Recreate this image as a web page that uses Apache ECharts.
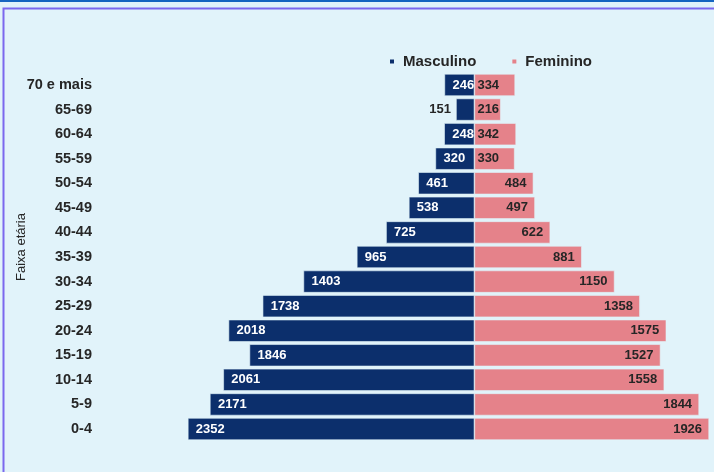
<!DOCTYPE html>
<html>
<head>
<meta charset="utf-8">
<script src="https://cdn.jsdelivr.net/npm/echarts@6/dist/echarts.min.js"></script>
<style>
  html, body { margin: 0; padding: 0; background: #e1f3fa; }
  #chart { width: 714px; height: 472px; }
</style>
</head>
<body>
<div id="chart"></div>
<script>
  var faixas = ['0-4', '5-9', '10-14', '15-19', '20-24', '25-29', '30-34', '35-39',
    '40-44', '45-49', '50-54', '55-59', '60-64', '65-69', '70 e mais'];
  var masculino = [2352, 2171, 2061, 1846, 2018, 1738, 1403, 965, 725, 538, 461, 320, 248, 151, 246];
  var feminino = [1926, 1844, 1558, 1527, 1575, 1358, 1150, 881, 622, 497, 484, 330, 342, 216, 334];

  var corMasc = '#0c2f6c';
  var corFem = '#e5828a';
  var fonte = '"Liberation Sans", Arial, sans-serif';

  // homens ficam negativos para crescer para a esquerda
  var dadosMasc = masculino.map(function (v) {
    return {
      value: -v,
      label: v < 200 ? { position: 'left', distance: 5, color: '#262626' } : {}
    };
  });
  var dadosFem = feminino.map(function (v) {
    return {
      value: v,
      label: v < 400 ? { position: 'insideLeft', distance: 3 } : {}
    };
  });

  var chart = echarts.init(document.getElementById('chart'));
  var option = {
    backgroundColor: '#e1f3fa',
    animation: false,
    graphic: [
      { type: 'rect', shape: { x: 0, y: 0, width: 714, height: 2 }, style: { fill: '#1565c0' } },
      { type: 'rect', shape: { x: 3.5, y: 8.5, width: 720, height: 480 },
        style: { fill: 'none', stroke: '#7b68ee', lineWidth: 2 } },
      {
        type: 'text', x: 21, y: 247, rotation: Math.PI / 2,
        style: {
          text: 'Faixa etária', fill: '#262626', font: '13px ' + fonte,
          textAlign: 'center', textVerticalAlign: 'middle'
        }
      }
    ],
    legend: {
      left: 383,
      top: 49,
      icon: 'rect',
      itemWidth: 6,
      itemHeight: 6,
      itemGap: 34,
      textStyle: {
        color: '#262626', fontSize: 15, fontWeight: 'bold', fontFamily: fonte,
        padding: [0, 0, 0, 3]
      }
    },
    grid: {
      left: 182,
      right: 2,
      top: 72.7,
      bottom: 30.7
    },
    xAxis: {
      type: 'value',
      min: -2400,
      max: 1950,
      show: false,
      splitLine: { show: false }
    },
    yAxis: {
      type: 'category',
      data: faixas,
      axisLine: { show: false, onZero: false },
      axisTick: { show: false },
      axisLabel: {
        margin: 90,
        color: '#262626',
        fontSize: 14.5,
        fontWeight: 'bold',
        fontFamily: fonte
      }
    },
    series: [
      {
        name: 'Masculino',
        type: 'bar',
        stack: 'total',
        barCategoryGap: '10%',
        itemStyle: { color: corMasc, borderColor: '#e1f3fa', borderWidth: 0.6 },
        label: {
          show: true,
          position: 'insideLeft',
          distance: 8,
          color: '#ffffff',
          fontSize: 13,
          fontWeight: 'bold',
          fontFamily: fonte,
          formatter: function (p) { return Math.abs(p.value); }
        },
        data: dadosMasc
      },
      {
        name: 'Feminino',
        type: 'bar',
        stack: 'total',
        barCategoryGap: '10%',
        itemStyle: { color: corFem, borderColor: '#e1f3fa', borderWidth: 0.6 },
        label: {
          show: true,
          position: 'insideRight',
          distance: 7,
          color: '#262626',
          fontSize: 13,
          fontWeight: 'bold',
          fontFamily: fonte
        },
        data: dadosFem
      }
    ]
  };
  chart.setOption(option);
</script>
</body>
</html>
